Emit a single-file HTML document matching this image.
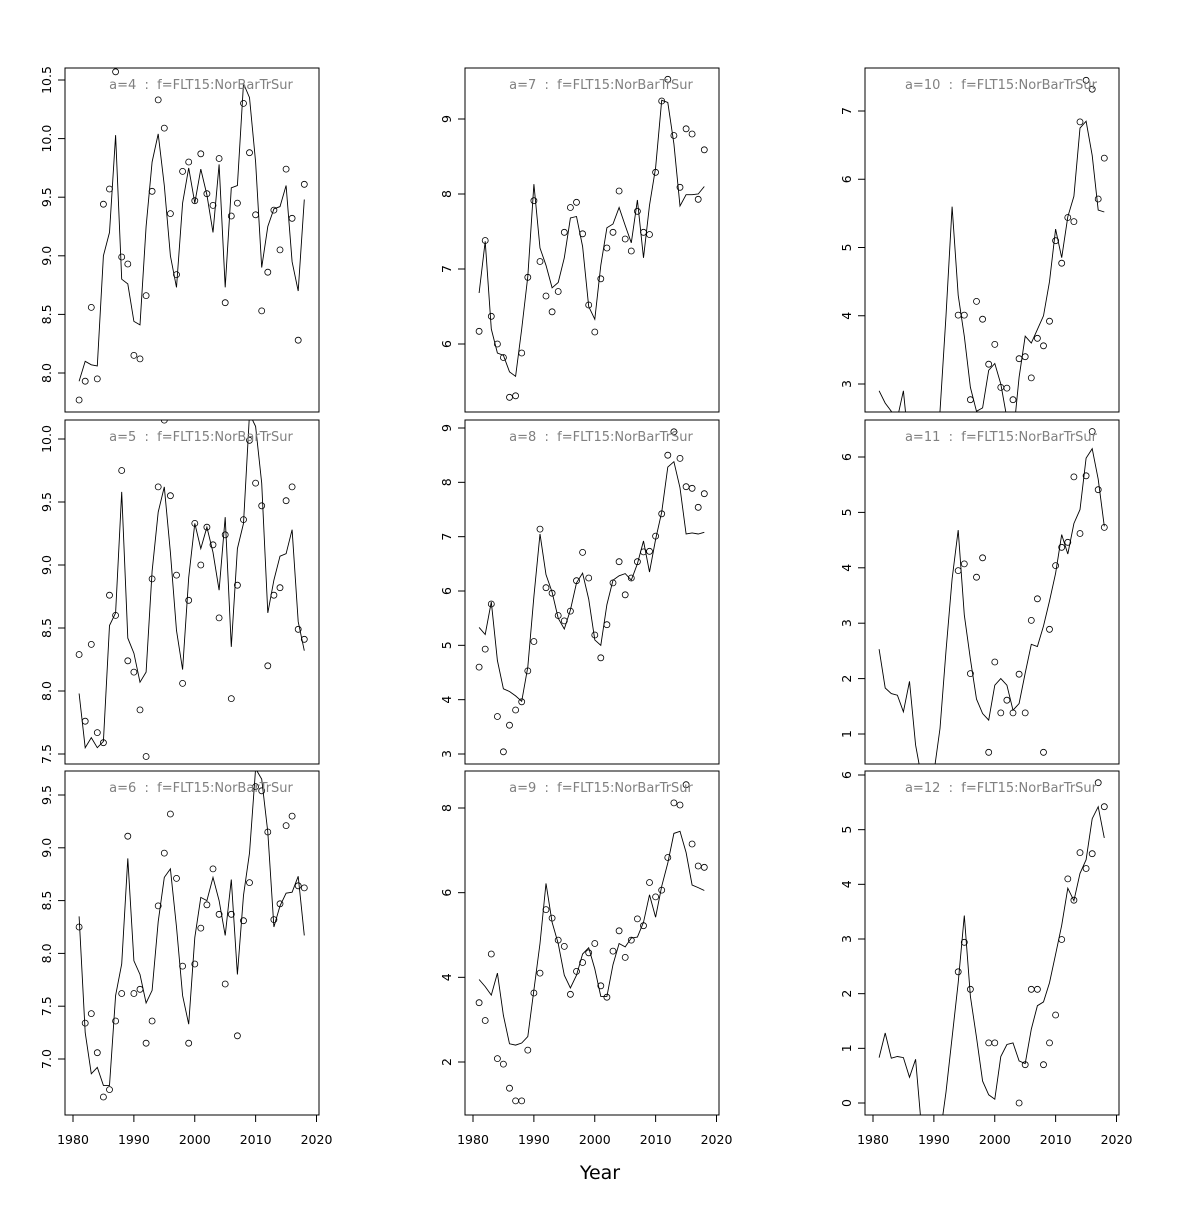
<!DOCTYPE html>
<html><head><meta charset="utf-8"><style>
html,body{margin:0;padding:0;background:#fff;}
svg text{font-family:"DejaVu Sans","Liberation Sans",sans-serif;white-space:pre;}
</style></head><body>
<svg id="s" width="1200" height="1200" xmlns="http://www.w3.org/2000/svg"></svg>
<script>
const N=null;
const P=[
{a:4,c:0,r:0,v0:8,y0:373,v1:10.5,y1:80,ticks:[8,8.5,9,9.5,10,10.5],fmt:1,
L:[7.93,8.1,8.07,8.06,9.0,9.2,10.03,8.8,8.76,8.44,8.41,9.25,9.8,10.04,9.6,9.0,8.73,9.45,9.75,9.45,9.74,9.52,9.2,9.78,8.73,9.58,9.6,10.47,10.35,9.8,8.9,9.25,9.4,9.42,9.6,8.95,8.7,9.48],
Q:[7.77,7.93,8.56,7.95,9.44,9.57,10.57,8.99,8.93,8.15,8.12,8.66,9.55,10.33,10.09,9.36,8.84,9.72,9.8,9.47,9.87,9.53,9.43,9.83,8.6,9.34,9.45,10.3,9.88,9.35,8.53,8.86,9.39,9.05,9.74,9.32,8.28,9.61]},
{a:5,c:0,r:1,v0:7.5,y0:754,v1:10,y1:439,ticks:[7.5,8,8.5,9,9.5,10],fmt:1,
L:[7.98,7.55,7.63,7.55,7.6,8.52,8.62,9.58,8.42,8.3,8.07,8.15,8.95,9.42,9.62,9.1,8.48,8.17,8.9,9.33,9.13,9.3,9.1,8.8,9.38,8.35,9.13,9.33,10.2,10.1,9.65,8.62,8.88,9.07,9.09,9.28,8.55,8.32],
Q:[8.29,7.76,8.37,7.67,7.59,8.76,8.6,9.75,8.24,8.15,7.85,7.48,8.89,9.62,10.15,9.55,8.92,8.06,8.72,9.33,9.0,9.3,9.16,8.58,9.24,7.94,8.84,9.36,9.99,9.65,9.47,8.2,8.76,8.82,9.51,9.62,8.49,8.41]},
{a:6,c:0,r:2,v0:7,y0:1059,v1:9.5,y1:795,ticks:[7,7.5,8,8.5,9,9.5],fmt:1,
L:[8.35,7.25,6.86,6.92,6.75,6.75,7.6,7.9,8.9,7.93,7.8,7.53,7.65,8.3,8.72,8.8,8.25,7.6,7.33,8.15,8.53,8.5,8.72,8.5,8.17,8.7,7.8,8.55,8.95,9.75,9.65,9.15,8.25,8.45,8.57,8.58,8.73,8.17],
Q:[8.25,7.34,7.43,7.06,6.64,6.71,7.36,7.62,9.11,7.62,7.66,7.15,7.36,8.45,8.95,9.32,8.71,7.88,7.15,7.9,8.24,8.46,8.8,8.37,7.71,8.37,7.22,8.31,8.67,9.58,9.54,9.15,8.32,8.47,9.21,9.3,8.64,8.62]},
{a:7,c:1,r:0,v0:6,y0:344,v1:9,y1:119,ticks:[6,7,8,9],fmt:0,
L:[6.68,7.37,6.2,5.88,5.85,5.63,5.57,6.2,6.9,8.13,7.28,7.05,6.75,6.82,7.15,7.68,7.7,7.3,6.5,6.33,7.05,7.55,7.6,7.82,7.58,7.35,7.92,7.15,7.85,8.35,9.25,9.22,8.67,7.84,7.99,7.99,8.0,8.1],
Q:[6.17,7.38,6.37,6.0,5.82,5.29,5.31,5.88,6.89,7.91,7.1,6.64,6.43,6.7,7.49,7.82,7.89,7.47,6.52,6.16,6.87,7.28,7.49,8.04,7.4,7.24,7.77,7.49,7.46,8.29,9.24,9.53,8.78,8.09,8.87,8.8,7.93,8.59]},
{a:8,c:1,r:1,v0:3,y0:754,v1:9,y1:428,ticks:[3,4,5,6,7,8,9],fmt:0,
L:[5.33,5.2,5.8,4.72,4.2,4.15,4.07,3.97,4.6,5.9,7.05,6.3,5.98,5.5,5.3,5.65,6.15,6.33,5.85,5.1,5.0,5.75,6.2,6.28,6.32,6.2,6.5,6.92,6.35,6.95,7.45,8.28,8.38,7.9,7.05,7.07,7.05,7.08],
Q:[4.6,4.93,5.76,3.69,3.04,3.53,3.81,3.96,4.53,5.07,7.14,6.06,5.96,5.55,5.45,5.63,6.19,6.71,6.24,5.19,4.77,5.38,6.15,6.54,5.93,6.24,6.54,6.72,6.73,7.01,7.42,8.5,8.93,8.44,7.92,7.89,7.54,7.79]},
{a:9,c:1,r:2,v0:2,y0:1062,v1:8,y1:808,ticks:[2,4,6,8],fmt:0,
L:[3.95,3.78,3.58,4.1,3.1,2.43,2.4,2.45,2.6,3.7,4.8,6.22,5.3,4.8,4.05,3.75,4.05,4.55,4.7,4.2,3.55,3.55,4.3,4.8,4.72,4.93,4.95,5.3,5.95,5.42,6.15,6.7,7.4,7.45,6.95,6.18,6.12,6.05],
Q:[3.4,2.98,4.55,2.08,1.95,1.38,1.08,1.08,2.28,3.63,4.1,5.6,5.4,4.88,4.73,3.6,4.14,4.35,4.58,4.8,3.8,3.53,4.62,5.1,4.47,4.88,5.38,5.22,6.24,5.9,6.06,6.83,8.12,8.07,8.55,7.15,6.63,6.6]},
{a:10,c:2,r:0,v0:3,y0:384,v1:7,y1:111,ticks:[3,4,5,6,7],fmt:0,
L:[2.9,2.72,2.6,2.5,2.9,2.0,1.8,1.6,1.8,2.1,2.6,4.0,5.6,4.3,3.7,2.95,2.6,2.65,3.2,3.3,3.0,2.5,2.2,3.1,3.7,3.6,3.8,4.0,4.5,5.27,4.85,5.45,5.75,6.75,6.85,6.35,5.55,5.52],
Q:[N,N,N,N,N,N,N,N,N,N,N,N,N,4.01,4.01,2.77,4.21,3.95,3.29,3.58,2.95,2.94,2.77,3.37,3.4,3.09,3.67,3.56,3.92,5.1,4.77,5.44,5.38,6.84,7.45,7.32,5.71,6.31]},
{a:11,c:2,r:1,v0:1,y0:734,v1:6,y1:457,ticks:[1,2,3,4,5,6],fmt:0,
L:[2.53,1.83,1.73,1.7,1.4,1.95,0.8,0.2,0.0,0.3,1.1,2.5,3.8,4.68,3.15,2.35,1.63,1.37,1.25,1.88,2.0,1.88,1.43,1.55,2.1,2.62,2.58,2.95,3.4,3.9,4.6,4.25,4.8,5.05,5.98,6.15,5.6,4.75],
Q:[N,N,N,N,N,N,N,N,N,N,N,N,N,3.95,4.07,2.09,3.83,4.18,0.67,2.3,1.38,1.61,1.38,2.08,1.38,3.05,3.44,0.67,2.89,4.04,4.37,4.46,5.64,4.62,5.66,6.46,5.41,4.73]},
{a:12,c:2,r:2,v0:0,y0:1103,v1:6,y1:775,ticks:[0,1,2,3,4,5,6],fmt:0,
L:[0.83,1.28,0.82,0.85,0.83,0.47,0.8,-0.5,-0.9,-1.0,-0.6,0.2,1.2,2.2,3.43,1.95,1.2,0.4,0.15,0.07,0.85,1.07,1.1,0.77,0.72,1.35,1.78,1.85,2.2,2.72,3.25,3.93,3.7,4.2,4.45,5.2,5.42,4.85],
Q:[N,N,N,N,N,N,N,N,N,N,N,N,N,2.4,2.94,2.08,N,N,1.1,1.1,N,N,N,0.0,0.7,2.08,2.08,0.7,1.1,1.61,2.99,4.1,3.71,4.58,4.29,4.56,5.86,5.42]}
];
const colX=[65,465,865], rowY=[68,420,771], W=254, H=344;
let s='';
P.forEach((p,i)=>{
 const px=colX[p.c], py=rowY[p.r];
 const X=y=>px+8+(y-1980)*(243.5/40);
 const Y=v=>p.y0+(v-p.v0)*(p.y1-p.y0)/(p.v1-p.v0);
 s+=`<clipPath id="c${i}"><rect x="${px}" y="${py}" width="${W}" height="${H}"/></clipPath>`;
 s+=`<rect x="${px}" y="${py}" width="${W}" height="${H}" fill="none" stroke="#000" stroke-width="1"/>`;
 let pts=p.L.map((v,k)=>X(1981+k).toFixed(1)+','+Y(v).toFixed(1)).join(' ');
 s+=`<g clip-path="url(#c${i})"><polyline points="${pts}" fill="none" stroke="#000" stroke-width="0.9"/>`;
 p.Q.forEach((v,k)=>{if(v!==null)s+=`<circle cx="${X(1981+k).toFixed(1)}" cy="${Y(v).toFixed(1)}" r="3" fill="none" stroke="#000" stroke-width="0.8"/>`;});
 s+=`</g>`;
 s+=`<text x="${px+136}" y="${py+21}" font-size="13" fill="#808080" text-anchor="middle">a=${p.a}  :  f=FLT15:NorBarTrSur</text>`;
 p.ticks.forEach(t=>{const y=Y(t);
  s+=`<line x1="${px-7}" x2="${px}" y1="${y}" y2="${y}" stroke="#000"/>`;
  s+=`<text transform="translate(${px-14},${y}) rotate(-90)" font-size="12.5" text-anchor="middle">${p.fmt?t.toFixed(1):t}</text>`;});
 if(p.r==2){
  s+=`<line x1="${X(1980)}" x2="${X(2020)}" y1="${py+H}" y2="${py+H}" stroke="#000"/>`;
  for(let y=1980;y<=2020;y+=10){s+=`<line x1="${X(y)}" x2="${X(y)}" y1="${py+H}" y2="${py+H+7}" stroke="#000"/>`;
   s+=`<text x="${X(y)}" y="${py+H+29}" font-size="12.5" text-anchor="middle">${y}</text>`;}
 }
});
s+=`<text x="600" y="1179" font-size="19" text-anchor="middle">Year</text>`;
document.getElementById('s').innerHTML=s;
</script>
</body></html>
